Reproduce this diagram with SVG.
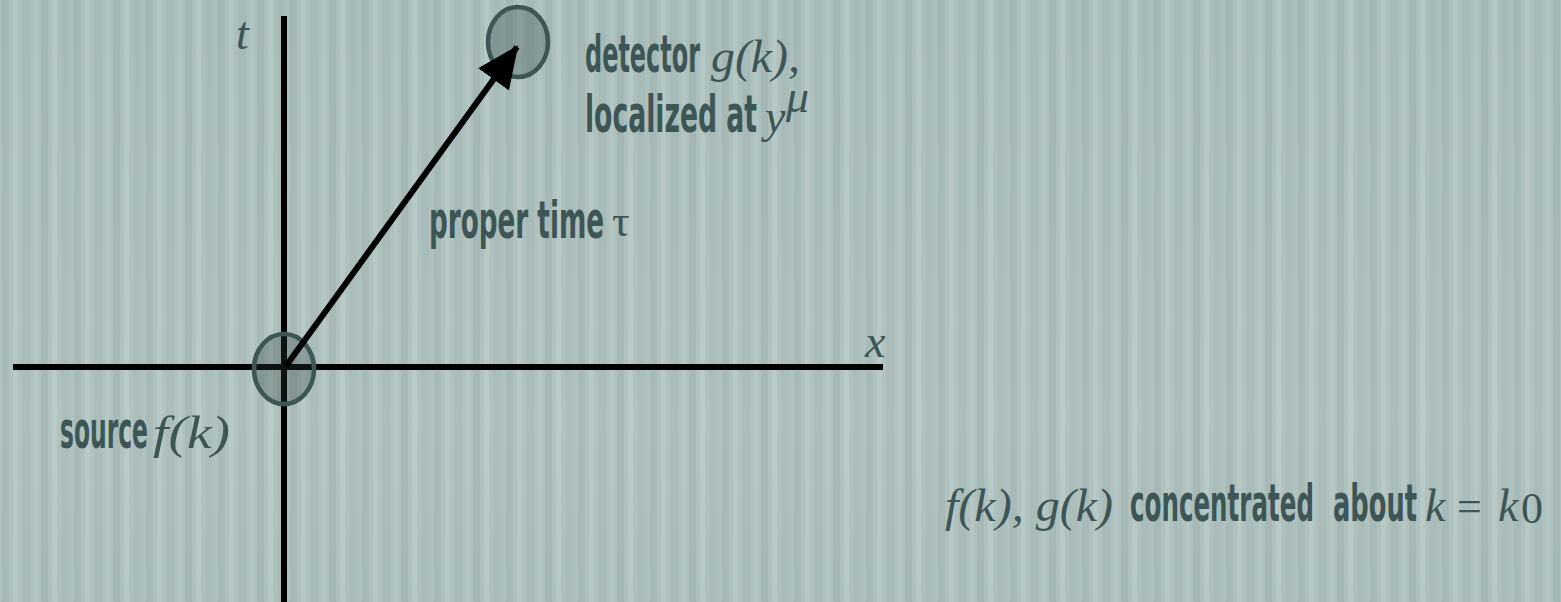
<svg xmlns="http://www.w3.org/2000/svg" width="1561" height="602" viewBox="0 0 1561 602">
  <defs>
    <pattern id="stripes" x="0" y="0" width="72" height="602" patternUnits="userSpaceOnUse">
      <rect x="0" y="0" width="72" height="602" fill="#abbfbc"/>
      <rect x="2" y="0" width="7" height="602" fill="#a3b7b4"/>
      <rect x="13" y="0" width="5" height="602" fill="#b4c6c3"/>
      <rect x="22" y="0" width="8" height="602" fill="#a5b9b6"/>
      <rect x="34" y="0" width="4" height="602" fill="#b2c4c1"/>
      <rect x="41" y="0" width="7" height="602" fill="#a2b6b3"/>
      <rect x="52" y="0" width="5" height="602" fill="#b5c7c4"/>
      <rect x="61" y="0" width="8" height="602" fill="#a6bab7"/>
    </pattern>
    <linearGradient id="glow" x1="0" y1="0" x2="0" y2="1">
      <stop offset="0" stop-color="#ffffff" stop-opacity="0"/>
      <stop offset="0.7" stop-color="#ffffff" stop-opacity="0.06"/>
      <stop offset="1" stop-color="#ffffff" stop-opacity="0.02"/>
    </linearGradient>
    <marker id="arrowhead" markerUnits="userSpaceOnUse" markerWidth="48" markerHeight="44" refX="40" refY="19" orient="auto" viewBox="0 0 48 44">
      <path d="M0,0 L42,19 L0,38 Z" fill="#000"/>
    </marker>
    <style>
      .lbl { font-family: "Liberation Sans Narrow", "DejaVu Sans Condensed", "Liberation Sans", sans-serif; font-weight: bold; font-size: 52px; fill: #3d5555; }
      .math { font-family: "Liberation Serif", "Times New Roman", Tinos, serif; font-style: italic; font-size: 46px; fill: #3d5555; }
      .rm { font-family: "Liberation Serif", "Times New Roman", Tinos, serif; font-size: 44px; fill: #3d5555; }
      .axis { stroke: #000; stroke-width: 6; fill: none; }
      .blob { fill: #2a4040; fill-opacity: 0.3; stroke: #3d5555; stroke-width: 4.5; }
    </style>
  </defs>

  <rect x="0" y="0" width="1561" height="602" fill="url(#stripes)"/>
  <rect x="0" y="0" width="1561" height="602" fill="url(#glow)"/>

  <g id="axes">
    <line class="axis" x1="284" y1="16" x2="284" y2="602"/>
    <line class="axis" x1="13" y1="367" x2="883" y2="367"/>
    <text class="math" x="236" y="49" font-size="58">t</text>
    <text class="math" x="865" y="357" font-size="62">x</text>
  </g>

  <g id="source">
    <ellipse class="blob" cx="284" cy="369" rx="30" ry="35"/>
    <text class="lbl" x="60" y="448" textLength="88" lengthAdjust="spacingAndGlyphs">source</text>
    <text class="math" x="153" y="448" textLength="77" lengthAdjust="spacingAndGlyphs">f(k)</text>
  </g>

  <g id="detector">
    <ellipse class="blob" cx="518" cy="42" rx="30" ry="35"/>
    <text class="lbl" x="585" y="72" textLength="115" lengthAdjust="spacingAndGlyphs">detector</text>
    <text class="math" x="711" y="72" textLength="89" lengthAdjust="spacingAndGlyphs">g(k),</text>
    <text class="lbl" x="585" y="132" textLength="172" lengthAdjust="spacingAndGlyphs">localized at</text>
    <text class="math" x="765" y="132" font-size="44">y</text>
    <text class="math" x="786" y="112" font-size="28">μ</text>
  </g>

  <g id="connectors">
    <line x1="286" y1="366" x2="517" y2="47" stroke="#000" stroke-width="6" marker-end="url(#arrowhead)"/>
    <text class="lbl" x="429" y="238" textLength="175" lengthAdjust="spacingAndGlyphs">proper time</text>
    <text class="rm" x="612" y="236" font-size="40">τ</text>
  </g>

  <g id="note">
    <text class="math" x="945" y="521" textLength="168" lengthAdjust="spacingAndGlyphs">f(k), g(k)</text>
    <text class="lbl" x="1130" y="521" textLength="184" lengthAdjust="spacingAndGlyphs">concentrated</text>
    <text class="lbl" x="1333" y="521" textLength="84" lengthAdjust="spacingAndGlyphs">about</text>
    <text class="math" x="1425" y="521">k</text>
    <text class="rm" x="1457" y="521">=</text>
    <text class="math" x="1498" y="521">k</text>
    <text class="rm" x="1521" y="523" font-size="30">0</text>
  </g>
</svg>
